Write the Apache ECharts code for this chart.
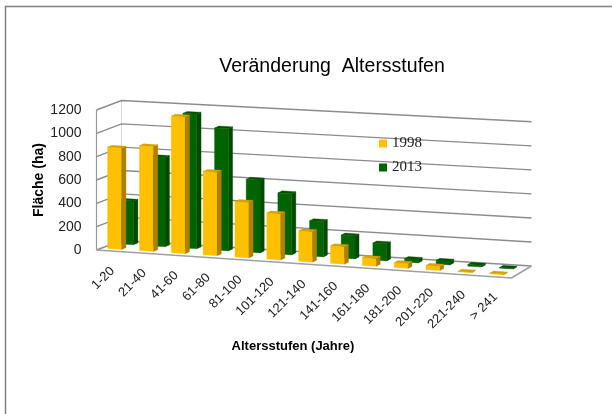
<!DOCTYPE html>
<html>
<head>
<meta charset="utf-8">
<title>Veränderung Altersstufen</title>
<style>
  html, body { margin: 0; padding: 0; background: #fff; }
  #chart { width: 612px; height: 414px; }
</style>
</head>
<body>
<div id="chart"></div>
<script src="https://cdn.jsdelivr.net/npm/echarts@6/dist/echarts.min.js"></script>
<script>
const categories = ['1-20', '21-40', '41-60', '61-80', '81-100', '101-120', '121-140', '141-160', '161-180', '181-200', '201-220', '221-240', '> 241']
const values1998 = [870, 900, 1170, 715, 475, 395, 260, 150, 68, 42, 36, 4, 6]
const values2013 = [375, 765, 1150, 1040, 620, 520, 300, 195, 145, 30, 32, 15, 6]
const yTicks = [0, 200, 400, 600, 800, 1000, 1200]

const font = '"Liberation Sans", Arial, sans-serif'

// the floor runs downhill to the right and the walls lean back, all in pixels
const SHEAR = 28
const BACK_LEFT = [25, -9.5]
const BACK_RIGHT = [20, -12]
const BACK_STRETCH = 0.03

// takes a point of the flat grid and puts it into the tilted box, d = 0 front .. 1 back
function project (grid, x, y, d) {
  const t = (x - grid.x) / grid.width
  const floor = grid.y + grid.height
  const dx = (BACK_LEFT[0] + (BACK_RIGHT[0] - BACK_LEFT[0]) * t) * d
  const dy = (BACK_LEFT[1] + (BACK_RIGHT[1] - BACK_LEFT[1]) * t) * d
  const h = (floor - y) * (1 + BACK_STRETCH * t * d)
  return [x + dx, floor - h + SHEAR * t + dy]
}

function face (points, color) {
  return {
    type: 'polygon',
    shape: { points },
    style: { fill: color, stroke: color, lineWidth: 0.3 }
  }
}

function barRenderer (offset, d0, d1, colors) {
  return function (params, api) {
    const grid = params.coordSys
    const top = api.coord([api.value(0), api.value(1)])
    const base = api.coord([api.value(0), 0])
    const step = api.size([1, 0])[0]
    const x0 = top[0] + (offset - 0.22) * step
    const x1 = top[0] + (offset + 0.22) * step
    const a = project(grid, x0, top[1], d0)
    const b = project(grid, x1, top[1], d0)
    const c = project(grid, x1, base[1], d0)
    const e = project(grid, x0, base[1], d0)
    const f = project(grid, x1, top[1], d1)
    const g = project(grid, x1, base[1], d1)
    const h = project(grid, x0, top[1], d1)
    return {
      type: 'group',
      children: [
        face([a, b, c, e], colors[0]),
        face([b, f, g, c], colors[1]),
        face([a, h, f, b], colors[2])
      ]
    }
  }
}

function wallRenderer (params, api) {
  const grid = params.coordSys
  const p = api.coord([0, api.value(1)])
  const left = grid.x
  const right = grid.x + grid.width
  const a = project(grid, left, p[1], 0)
  const b = project(grid, left, p[1], 1)
  const c = project(grid, right, p[1], 1)
  const line = { stroke: '#8c8c8c', lineWidth: 1.4, fill: null }
  const children = [
    { type: 'polyline', shape: { points: [a, b, c] }, style: line }
  ]
  if (api.value(1) === 0) {
    const frontRight = project(grid, right, p[1], 0)
    const topY = api.coord([0, yTicks[yTicks.length - 1]])[1]
    children.push(
      { type: 'polyline', shape: { points: [a, frontRight, c] }, style: { stroke: '#a0a0a0', lineWidth: 1.6, fill: null } },
      { type: 'line', shape: { x1: a[0], y1: a[1], x2: a[0], y2: topY }, style: { stroke: '#9a9a9a', lineWidth: 1.2 } },
      { type: 'line', shape: { x1: b[0], y1: b[1], x2: b[0], y2: project(grid, left, topY, 1)[1] }, style: { stroke: '#d8d8d8', lineWidth: 1 } }
    )
  }
  return { type: 'group', children }
}

function labelRenderer (params, api) {
  const grid = params.coordSys
  const p = api.coord([api.value(0), 0])
  const q = project(grid, p[0], p[1], 0)
  return {
    type: 'text',
    x: q[0],
    y: q[1] + 18,
    rotation: Math.PI / 4,
    style: {
      text: categories[api.value(0)],
      align: 'right',
      verticalAlign: 'middle',
      font: '13px ' + font,
      fill: '#222'
    }
  }
}

const chart = echarts.init(document.getElementById('chart'))

chart.setOption({
  animation: false,
  backgroundColor: '#fff',
  title: [
    {
      text: 'Veränderung  Altersstufen',
      left: 327,
      top: 52,
      textAlign: 'center',
      textStyle: { fontFamily: font, fontSize: 19.5, fontWeight: 'normal', color: '#000' }
    },
    {
      text: 'Altersstufen (Jahre)',
      left: 288,
      top: 335,
      textAlign: 'center',
      textStyle: { fontFamily: font, fontSize: 13, fontWeight: 'bold', color: '#000' }
    }
  ],
  legend: {
    orient: 'vertical',
    left: 374,
    top: 131,
    itemWidth: 8,
    itemHeight: 8,
    itemGap: 9,
    icon: 'rect',
    data: ['1998', '2013'],
    textStyle: { fontFamily: '"Liberation Serif", serif', fontSize: 15, color: '#222' }
  },
  graphic: [
    {
      type: 'rect',
      silent: true,
      shape: { x: 5.5, y: 6.5, width: 640, height: 440 },
      style: { fill: null, stroke: '#808080', lineWidth: 1.5 }
    }
  ],
  grid: { left: 96.5, top: 110, width: 415, height: 140 },
  xAxis: {
    type: 'category',
    data: categories,
    axisLine: { show: false },
    axisTick: { show: false },
    axisLabel: { show: false }
  },
  yAxis: {
    type: 'value',
    min: 0,
    max: 1200,
    interval: 200,
    name: 'Fläche (ha)',
    nameLocation: 'middle',
    nameGap: 50,
    nameMoveOverlap: false,
    nameTextStyle: { fontFamily: font, fontSize: 14, fontWeight: 'bold', color: '#000' },
    axisLine: { show: false },
    axisTick: { show: false },
    splitLine: { show: false },
    axisLabel: { fontFamily: font, fontSize: 14, color: '#222', margin: 15, formatter: v => String(v) }
  },
  series: [
    {
      name: 'walls',
      type: 'custom',
      silent: true,
      z: 1,
      clip: false,
      renderItem: wallRenderer,
      data: yTicks.map(t => [0, t]),
      encode: { x: 0, y: 1 }
    },
    {
      name: '2013',
      type: 'custom',
      z: 2,
      clip: false,
      itemStyle: { color: '#006400' },
      renderItem: barRenderer(-0.09, 0.68, 0.86, ['#006400', '#004a00', '#005200']),
      data: values2013.map((v, i) => [i, v]),
      encode: { x: 0, y: 1 }
    },
    {
      name: '1998',
      type: 'custom',
      z: 3,
      clip: false,
      itemStyle: { color: '#FFC000' },
      renderItem: barRenderer(-0.09, 0.2, 0.38, ['#FFC000', '#AD8000', '#D6A000']),
      data: values1998.map((v, i) => [i, v]),
      encode: { x: 0, y: 1 }
    },
    {
      name: 'labels',
      type: 'custom',
      silent: true,
      z: 4,
      clip: false,
      renderItem: labelRenderer,
      data: categories.map((c, i) => [i, 0]),
      encode: { x: 0, y: 1 }
    }
  ]
})

window.addEventListener('resize', () => chart.resize())
</script>
</body>
</html>
